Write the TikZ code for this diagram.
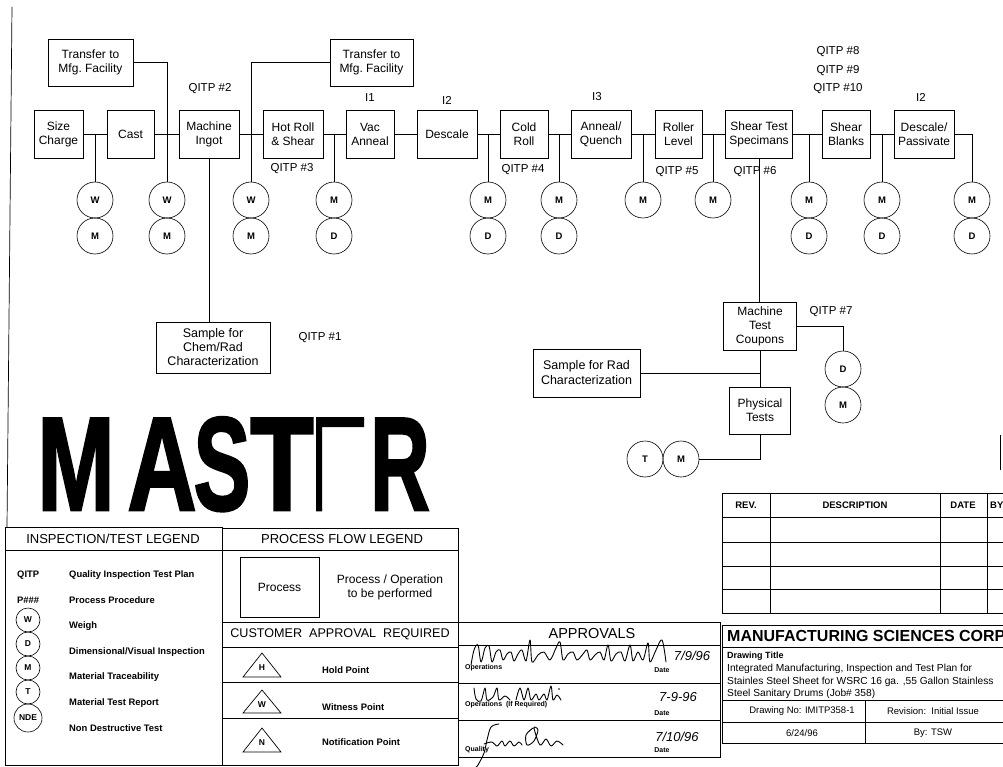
\documentclass[tikz,border=0pt]{standalone}
\usepackage{fontspec}
\usepackage{graphicx}
\setmainfont{Liberation Sans}
\newfontfamily\masterfont{Liberation Sans}[BoldFeatures={FakeBold=2}]
\begin{document}
\begin{tikzpicture}[x=1pt,y=-1pt,
  box/.style={draw,line width=0.7pt,rectangle,align=center,inner sep=0pt,font=\fontsize{12}{14}\selectfont},
  insp/.style={draw,line width=0.6pt,circle,minimum size=36pt,inner sep=0pt,font=\bfseries\fontsize{9.5}{10}\selectfont},
  lcirc/.style={draw,line width=0.6pt,circle,minimum size=24pt,inner sep=0pt,font=\bfseries\fontsize{8.5}{9}\selectfont},
  lbl/.style={font=\fontsize{11.5}{13}\selectfont,inner sep=0pt},
  conn/.style={line width=0.6pt},
  tl/.style={line width=0.7pt},
  legt/.style={anchor=west,inner sep=0pt,font=\bfseries\fontsize{9.4}{10}\selectfont},
  hdr/.style={inner sep=0pt,font=\fontsize{13}{14}\selectfont},
  small/.style={anchor=west,inner sep=0pt,font=\bfseries\fontsize{7}{8}\selectfont},
  smallc/.style={inner sep=0pt,font=\bfseries\fontsize{7}{8}\selectfont},
  hand/.style={inner sep=0pt,font=\itshape\fontsize{13}{14}\selectfont},
  sig/.style={line width=0.9pt,line cap=round,line join=round},
  big/.style={inner sep=0pt,anchor=base,text depth=0pt,font=\masterfont\bfseries\fontsize{133}{133}\selectfont},
  ttxt/.style={anchor=west,inner sep=0pt,font=\fontsize{10.2}{11}\selectfont}
]
\useasboundingbox (0,0) rectangle (1003,767);
\fill[white] (0,0) rectangle (1003,767);

% left border
\draw[tl] (12,7) -- (7,527);

% process boxes
\node[box,minimum width=49pt,minimum height=48pt] (sc) at (58.5,134) {Size\\Charge};
\node[box,minimum width=47pt,minimum height=48pt] (cast) at (130.5,134) {Cast};
\node[box,minimum width=60pt,minimum height=48pt] (mi) at (209,134) {Machine\\Ingot};
\node[box,minimum width=60pt,minimum height=48pt] (hr) at (293,134) {Hot Roll\\\& Shear};
\node[box,minimum width=48pt,minimum height=48pt] (va) at (370,134) {Vac\\Anneal};
\node[box,minimum width=60pt,minimum height=48pt] (ds) at (447,134) {Descale};
\node[box,minimum width=48pt,minimum height=48pt] (cr) at (524,134) {Cold\\Roll};
\node[box,minimum width=60pt,minimum height=48pt] (aq) at (601,134) {Anneal/\\Quench};
\node[box,minimum width=47pt,minimum height=48pt] (rl) at (678.5,134) {Roller\\Level};
\node[box,minimum width=67pt,minimum height=48pt] (st) at (759,134) {Shear Test\\Specimans};
\node[box,minimum width=48pt,minimum height=48pt] (sb) at (846,134) {Shear\\Blanks};
\node[box,minimum width=60pt,minimum height=48pt] (dp) at (924,134) {Descale/\\Passivate};
\node[box,minimum width=85pt,minimum height=47pt] (tf1) at (90.5,62.5) {Transfer to\\Mfg.\ Facility};
\node[box,minimum width=83pt,minimum height=47pt] (tf2) at (371.5,62.5) {Transfer to\\Mfg.\ Facility};
\node[box,minimum width=114pt,minimum height=51pt,font=\fontsize{12.5}{14}\selectfont] (chem) at (213,347.5) {Sample for\\Chem/Rad\\Characterization};
\node[box,minimum width=73pt,minimum height=48pt] (mtc) at (760,326) {Machine\\Test\\Coupons};
\node[box,minimum width=107pt,minimum height=48pt,font=\fontsize{12.5}{15}\selectfont] (srad) at (586.5,373) {Sample for Rad\\Characterization};
\node[box,minimum width=61pt,minimum height=47pt] (pt) at (760,410.5) {Physical\\Tests};

% inspection circles
\node[insp] (c1a) at (95,200) {W};  \node[insp] (c1b) at (95,236) {M};
\node[insp] (c2a) at (167,200) {W}; \node[insp] (c2b) at (167,236) {M};
\node[insp] (c3a) at (251,200) {W}; \node[insp] (c3b) at (251,236) {M};
\node[insp] (c4a) at (334,200) {M}; \node[insp] (c4b) at (334,236) {D};
\node[insp] (c5a) at (488,200) {M}; \node[insp] (c5b) at (488,236) {D};
\node[insp] (c6a) at (559,200) {M}; \node[insp] (c6b) at (559,236) {D};
\node[insp] (c7) at (643,200) {M};
\node[insp] (c8) at (713,200) {M};
\node[insp] (c9a) at (809,200) {M}; \node[insp] (c9b) at (809,236) {D};
\node[insp] (c10a) at (882,200) {M}; \node[insp] (c10b) at (882,236) {D};
\node[insp] (c11a) at (972,200) {M}; \node[insp] (c11b) at (972,236) {D};
\node[insp] (dd) at (843,369) {D}; \node[insp] (dm) at (843,405) {M};
\node[insp] (pT) at (645,459) {T}; \node[insp] (pm) at (681,459) {M};

% main flow connectors
\draw[conn] (sc.east) -- (cast.west);
\draw[conn] (cast.east) -- (mi.west);
\draw[conn] (mi.east) -- (hr.west);
\draw[conn] (hr.east) -- (va.west);
\draw[conn] (va.east) -- (ds.west);
\draw[conn] (ds.east) -- (cr.west);
\draw[conn] (cr.east) -- (aq.west);
\draw[conn] (aq.east) -- (rl.west);
\draw[conn] (rl.east) -- (st.west);
\draw[conn] (st.east) -- (sb.west);
\draw[conn] (sb.east) -- (dp.west);
\draw[conn] (dp.east) -| (c11a.north);
% branches
\draw[conn] (c1a |- sc.east) -- (c1a.north);
\draw[conn] (tf1.east) -| (c2a.north);
\draw[conn] (tf2.west) -| (c3a.north);
\draw[conn] (c4a |- hr.east) -- (c4a.north);
\draw[conn] (c5a |- ds.east) -- (c5a.north);
\draw[conn] (c6a |- cr.east) -- (c6a.north);
\draw[conn] (c7 |- aq.east) -- (c7.north);
\draw[conn] (c8 |- rl.east) -- (c8.north);
\draw[conn] (c9a |- st.east) -- (c9a.north);
\draw[conn] (c10a |- sb.east) -- (c10a.north);
\draw[conn] (mi.south) -- (mi.south |- chem.north);
\draw[conn] (st.south) -- (st.south |- mtc.north);
\draw[conn] (mtc.east) -| (dd.north);
\draw[conn] (mtc.south) -- (pt.north);
\draw[conn] (srad.east) -- (srad.east -| pt.north);
\draw[conn] (pt.south) |- (pm.east);
\draw[conn] (1000,435) -- (1000,470);

% labels
\node[lbl] (q2) at (210,89) {QITP \#2};
\node[lbl] (q3) at (292,169) {QITP \#3};
\node[lbl] (i1) at (370,98) {I1};
\node[lbl] (i2a) at (447,100) {I2};
\node[lbl] (q4) at (523,170) {QITP \#4};
\node[lbl] (i3) at (597,97) {I3};
\node[lbl] (q5) at (677,172) {QITP \#5};
\node[lbl] (q6) at (755,172) {QITP \#6};
\node[lbl] (q8) at (838,52) {QITP \#8};
\node[lbl] (q9) at (838,71) {QITP \#9};
\node[lbl] (q10) at (838,89) {QITP \#10};
\node[lbl] (i2b) at (921,97) {I2};
\node[lbl] (q1) at (320,338) {QITP \#1};
\node[lbl] (q7) at (831,312) {QITP \#7};

% MASTER stamp
\node[big] (mM) at (76,510) {\scalebox{0.7}[1]{M}};
\node[big] (mA) at (162,510) {\scalebox{0.72}[1]{A}};
\node[big] (mS) at (222,510) {\scalebox{0.64}[1]{S}};
\node[big] (mT) at (282,510) {\scalebox{0.78}[1]{T}};
\begin{scope}
  \clip (316,400) rectangle (364,427) (316,400) rectangle (322,515);
  \node[big] (mE) at (341,510) {\scalebox{0.68}[1]{E}};
\end{scope}
\node[big] (mR) at (400,510) {\scalebox{0.62}[1]{R}};

% Inspection / test legend
\draw[tl] (5,527) rectangle (222,765);
\draw[tl] (5,550) -- (222,550);
\node[hdr] (ilh) at (113,539) {INSPECTION/TEST LEGEND};
\node[legt] (lq) at (17,575) {QITP};
\node[legt] (lqt) at (69,575) {Quality Inspection Test Plan};
\node[legt] (lp) at (17,600) {P\#\#\#};
\node[legt] (lpt) at (69,600) {Process Procedure};
\node[lcirc] (lw) at (28,620) {W};
\node[lcirc] (ld) at (28,644) {D};
\node[lcirc] (lm) at (28,668) {M};
\node[lcirc] (lt) at (28,692) {T};
\node[lcirc,minimum size=28pt] (ln) at (28,718) {NDE};
\node[legt] (lwt) at (69,626) {Weigh};
\node[legt] (ldt) at (69,652) {Dimensional/Visual Inspection};
\node[legt] (lmt) at (69,677) {Material Traceability};
\node[legt] (ltt) at (69,703) {Material Test Report};
\node[legt] (lnt) at (69,728) {Non Destructive Test};

% Process flow legend
\draw[tl] (222,528) rectangle (458,765);
\draw[tl] (222,550) -- (458,550);
\draw[tl] (222,622) -- (458,622);
\draw[tl] (222,647) -- (458,647);
\draw[tl] (222,682) -- (458,682);
\draw[tl] (222,718) -- (458,718);
\node[hdr] (plh) at (342,539.5) {PROCESS FLOW LEGEND};
\node[box,minimum width=79pt,minimum height=60pt] (lproc) at (279.5,587) {Process};
\node[align=center,inner sep=0pt,font=\fontsize{12}{14}\selectfont] (lpd) at (390,587) {Process / Operation\\to be performed};
\node[hdr,font=\fontsize{12.6}{14}\selectfont] (cah) at (340,634.5) {CUSTOMER\ \ APPROVAL\ \ REQUIRED};
\draw[tl] (262,653) -- (243,677) -- (281,677) -- cycle;
\draw[tl] (262,690) -- (243,713) -- (281,713) -- cycle;
\draw[tl] (262,728) -- (243,752) -- (281,752) -- cycle;
\node[smallc,font=\bfseries\fontsize{8.5}{9}\selectfont] (th) at (262,668) {H};
\node[smallc,font=\bfseries\fontsize{8.5}{9}\selectfont] (tw) at (262,705) {W};
\node[smallc,font=\bfseries\fontsize{8.5}{9}\selectfont] (tn) at (262,743) {N};
\node[legt] (thp) at (322,670) {Hold Point};
\node[legt] (twp) at (322,707) {Witness Point};
\node[legt] (tnp) at (322,742) {Notification Point};

% Approvals
\draw[tl] (458,622) rectangle (720,757);
\draw[tl] (458,645) -- (720,645);
\draw[tl] (458,683) -- (720,683);
\draw[tl] (458,720) -- (720,720);
\node[inner sep=0pt,font=\fontsize{14.5}{15}\selectfont] (aph) at (592,634) {APPROVALS};
\node[small] (ao1) at (465,668) {Operations};
\node[smallc] (ad1) at (662,670) {Date};
\node[small] (ao2) at (465,705) {Operations\ \ (If Required)};
\node[smallc] (ad2) at (662,713) {Date};
\node[small] (ao3) at (465,750) {Quality};
\node[smallc] (ad3) at (662,750) {Date};
\node[hand] (dt1) at (692,656) {7/9/96};
\node[hand] (dt2) at (678,697) {7-9-96};
\node[hand] (dt3) at (677,737) {7/10/96};
\draw[sig] plot[smooth,tension=0.55] coordinates {(471,665) (474,650) (478,645) (481,662) (485,648) (489,646) (492,662) (496,652) (500,650) (503,660) (507,654) (511,652) (514,661) (518,654) (522,650) (526,661) (530,640) (532,662) (538,655) (544,652) (550,660) (556,648) (560,642) (563,660) (568,654) (573,652) (577,660) (583,654) (587,650) (590,660) (595,655) (600,652) (604,660) (608,645) (611,661) (616,654) (621,652) (625,661) (630,645) (633,661) (638,652) (643,660) (648,643) (650,662) (656,650) (662,640) (666,662)};
\draw[sig] plot[smooth,tension=0.55] coordinates {(474,688) (476,699) (481,701) (485,688) (487,700) (493,697) (497,688) (499,700) (505,696) (510,700)};
\draw[sig] plot[smooth,tension=0.55] coordinates {(516,700) (520,688) (524,700) (528,688) (531,700) (536,694) (539,700) (544,694) (547,700) (551,686) (553,700) (557,695) (561,700)};
\fill (559,689) circle (0.9pt);
\draw[sig] plot[smooth,tension=0.55] coordinates {(499,724) (491,727) (487,740) (484,753) (478,765) (476,767)};
\draw[sig] plot[smooth,tension=0.55] coordinates {(484,744) (492,742) (497,746) (502,741) (505,746) (510,741) (514,746) (519,742) (522,745)};
\draw[sig] plot[smooth,tension=0.55] coordinates {(533,728) (526,735) (527,745) (534,741) (538,730) (534,728) (540,745) (546,739) (551,746) (557,741) (563,745)};

% Revision table
\draw[tl] (722,493) -- (1010,493);
\draw[tl] (722,493) -- (722,613);
\draw[tl] (722,613) -- (1010,613);
\foreach \yy in {517,542,566,589} { \draw[tl] (722,\yy) -- (1010,\yy); }
\foreach \xx in {770,940,987} { \draw[tl] (\xx,493) -- (\xx,613); }
\node[inner sep=0pt,font=\bfseries\fontsize{9.5}{10}\selectfont] (rv) at (746,505) {REV.};
\node[inner sep=0pt,font=\bfseries\fontsize{9.5}{10}\selectfont] (rd) at (855,505) {DESCRIPTION};
\node[inner sep=0pt,font=\bfseries\fontsize{9.5}{10}\selectfont] (rdt) at (963,505) {DATE};
\node[anchor=west,inner sep=0pt,font=\bfseries\fontsize{9.5}{10}\selectfont] (rby) at (990,505) {BY};

% Title block
\draw[tl] (722,625) -- (1010,625);
\draw[tl] (722,625) -- (722,743);
\draw[tl] (722,647) -- (1010,647);
\draw[tl] (722,700) -- (1010,700);
\draw[tl] (722,722) -- (1010,722);
\draw[tl] (722,743) -- (1010,743);
\draw[tl] (865,700) -- (865,743);
\node[anchor=west,inner sep=0pt,font=\bfseries\fontsize{16}{17}\selectfont] (mfg) at (727,636) {MANUFACTURING SCIENCES CORP};
\node[anchor=west,inner sep=0pt,font=\bfseries\fontsize{9}{10}\selectfont] (dtt) at (727,656) {Drawing Title};
\node[ttxt] (tt1) at (727,669) {Integrated Manufacturing, Inspection and Test Plan for};
\node[ttxt] (tt2) at (727,682) {Stainles Steel Sheet for WSRC 16 ga. ,55 Gallon Stainless};
\node[ttxt] (tt3) at (727,694) {Steel Sanitary Drums (Job\# 358)};
\node[inner sep=0pt,font=\fontsize{9.5}{10}\selectfont] (dno) at (802,711.5) {Drawing No: IMITP358-1};
\node[inner sep=0pt,font=\fontsize{9.5}{10}\selectfont] (rvn) at (933,711.5) {Revision:\ \ Initial Issue};
\node[inner sep=0pt,font=\fontsize{9.5}{10}\selectfont] (ddt) at (802,733) {6/24/96};
\node[inner sep=0pt,font=\fontsize{9.5}{10}\selectfont] (dby) at (933,733) {By: TSW};
\end{tikzpicture}
\end{document}
